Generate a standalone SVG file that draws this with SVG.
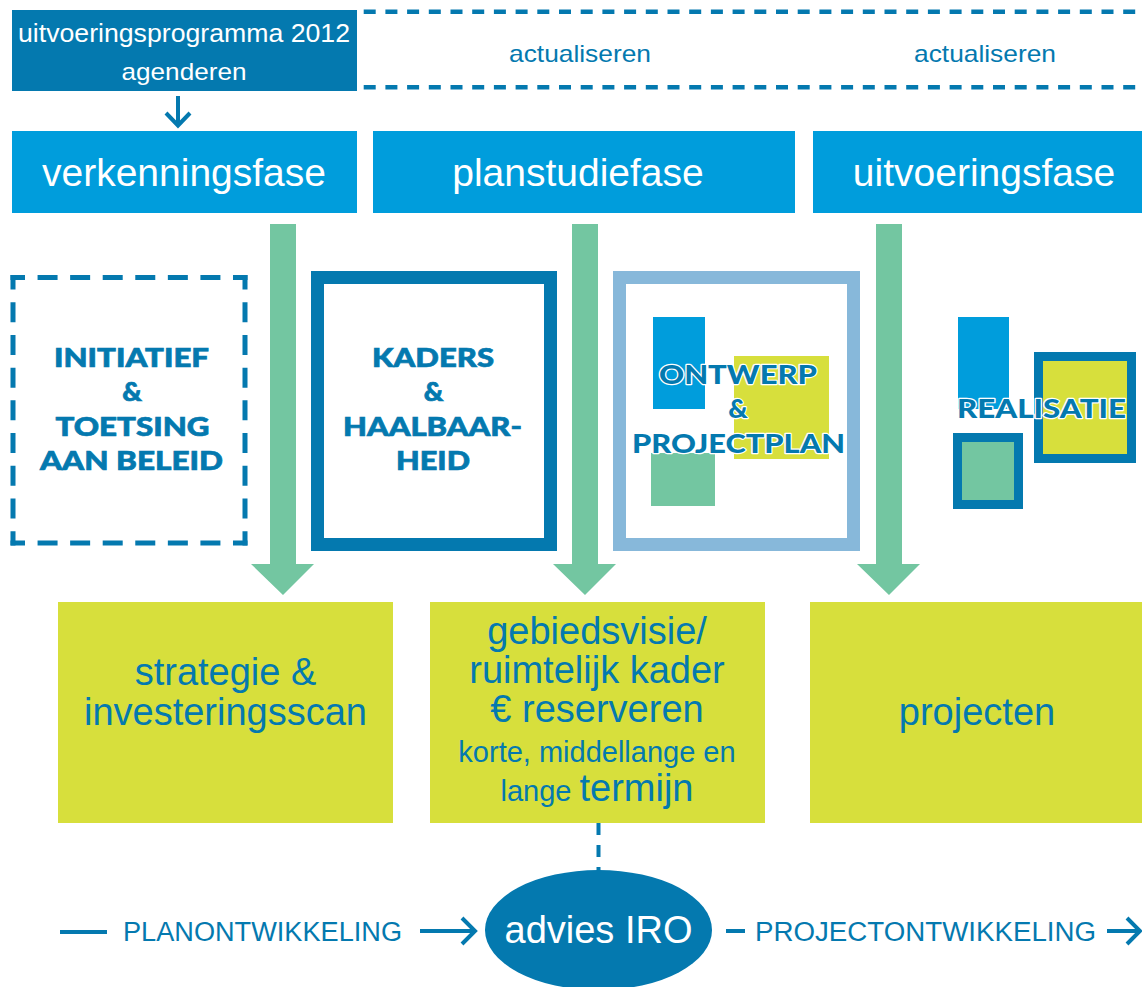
<svg xmlns="http://www.w3.org/2000/svg" width="1142" height="987" viewBox="0 0 1142 987">
  <style>
    .sans { font-family: "Liberation Sans", Arial, sans-serif; }
    .head { font-family: Lato, "Open Sans", "Liberation Sans", sans-serif; font-weight: 900; fill: #0479af; text-anchor: middle; stroke: #0479af; stroke-width: 0.7; }
    .outl { stroke: #ffffff; stroke-width: 2.4; paint-order: stroke; stroke-linejoin: round; }
    .phase { fill: #009ddc; }
    .phase-t { fill: #ffffff; font-size: 39px; text-anchor: middle; }
    .res { fill: #d7df3c; }
    .res-t { fill: #0479af; text-anchor: middle; }
    .dk { fill: #0479af; }
    .gr { fill: #73c6a1; }
    .dash { fill: none; stroke: #0479af; }
    .line { fill: none; stroke: #0479af; stroke-width: 4; }
  </style>

  <rect width="1142" height="987" fill="#ffffff"/>

  <!-- programme bar with update cycle -->
  <g id="uitvoeringsprogramma">
    <rect x="12" y="10" width="345" height="81" class="dk"/>
    <text x="184" y="42" class="sans" font-size="25" fill="#ffffff" text-anchor="middle" textLength="332" lengthAdjust="spacingAndGlyphs">uitvoeringsprogramma 2012</text>
    <text x="184" y="80" class="sans" font-size="24" fill="#ffffff" text-anchor="middle" textLength="125" lengthAdjust="spacingAndGlyphs">agenderen</text>
  </g>
  <g id="actualiseren">
    <line x1="358" y1="11.7" x2="1142" y2="11.7" class="dash" stroke-width="4.5" stroke-dasharray="12 9.7" stroke-dashoffset="16"/>
    <line x1="358" y1="87.3" x2="1142" y2="87.3" class="dash" stroke-width="4.5" stroke-dasharray="12 9.7" stroke-dashoffset="16"/>
    <text x="580" y="62" class="sans" font-size="24" fill="#0479af" text-anchor="middle" textLength="142" lengthAdjust="spacingAndGlyphs">actualiseren</text>
    <text x="985" y="62" class="sans" font-size="24" fill="#0479af" text-anchor="middle" textLength="142" lengthAdjust="spacingAndGlyphs">actualiseren</text>
  </g>

  <!-- phases -->
  <g id="verkenningsfase">
    <rect x="12" y="131" width="345" height="82" class="phase"/>
    <text x="184" y="186" class="sans phase-t">verkenningsfase</text>
  </g>
  <g id="planstudiefase">
    <rect x="373" y="131" width="422" height="82" class="phase"/>
    <text x="578" y="186" class="sans phase-t">planstudiefase</text>
  </g>
  <g id="uitvoeringsfase">
    <rect x="813" y="131" width="329" height="82" class="phase"/>
    <text x="984" y="186" class="sans phase-t">uitvoeringsfase</text>
  </g>

  <!-- activity blocks -->
  <g id="initiatief">
    <line x1="10.5" y1="277.5" x2="247.5" y2="277.5" class="dash" stroke-width="5" stroke-dasharray="20 12.57" stroke-dashoffset="5.5"/>
    <line x1="10.5" y1="543" x2="247.5" y2="543" class="dash" stroke-width="5" stroke-dasharray="20 12.57" stroke-dashoffset="5.5"/>
    <line x1="13" y1="275" x2="13" y2="545.5" class="dash" stroke-width="5" stroke-dasharray="20 12.71" stroke-dashoffset="5.5"/>
    <line x1="245" y1="275" x2="245" y2="545.5" class="dash" stroke-width="5" stroke-dasharray="20 12.71" stroke-dashoffset="5.5"/>
    <text x="131.5" y="367" class="head" font-size="27" textLength="155" lengthAdjust="spacingAndGlyphs">INITIATIEF</text>
    <text x="132" y="401" class="head" font-size="27">&amp;</text>
    <text x="132.5" y="436" class="head" font-size="27" textLength="154" lengthAdjust="spacingAndGlyphs">TOETSING</text>
    <text x="131.5" y="470" class="head" font-size="27" textLength="183" lengthAdjust="spacingAndGlyphs">AAN BELEID</text>
  </g>
  <g id="kaders">
    <rect x="317.5" y="277.5" width="233" height="267" fill="none" stroke="#0479af" stroke-width="13"/>
    <text x="433" y="367" class="head" font-size="27" textLength="122" lengthAdjust="spacingAndGlyphs">KADERS</text>
    <text x="433.5" y="401" class="head" font-size="27">&amp;</text>
    <text x="432.5" y="436" class="head" font-size="27" textLength="179" lengthAdjust="spacingAndGlyphs">HAALBAAR-</text>
    <text x="433" y="470" class="head" font-size="27" textLength="74" lengthAdjust="spacingAndGlyphs">HEID</text>
  </g>
  <g id="ontwerp">
    <rect x="619.5" y="277.5" width="234" height="267" fill="none" stroke="#87b8da" stroke-width="13"/>
    <rect x="653" y="317" width="52" height="92" class="phase"/>
    <rect x="734" y="356" width="95" height="103" class="res"/>
    <rect x="651" y="453" width="64" height="53" class="gr"/>
    <text x="738" y="384" class="head outl" font-size="27" textLength="158" lengthAdjust="spacingAndGlyphs">ONTWERP</text>
    <text x="738" y="418" class="head outl" font-size="27">&amp;</text>
    <text x="738.5" y="453" class="head outl" font-size="27" textLength="213" lengthAdjust="spacingAndGlyphs">PROJECTPLAN</text>
  </g>
  <g id="realisatie">
    <rect x="958" y="317" width="51" height="92" class="phase"/>
    <rect x="1038.5" y="356.5" width="93" height="102" class="res" stroke="#0479af" stroke-width="9"/>
    <rect x="957.5" y="437.5" width="61" height="67" class="gr" stroke="#0479af" stroke-width="9"/>
    <text x="1041.5" y="418" class="head outl" font-size="27" textLength="169" lengthAdjust="spacingAndGlyphs">REALISATIE</text>
  </g>

  <!-- results -->
  <g id="strategie">
    <rect x="58" y="602" width="335" height="221" class="res"/>
    <text x="225.5" y="685" class="sans res-t" font-size="38">strategie &amp;</text>
    <text x="225.5" y="725" class="sans res-t" font-size="38">investeringsscan</text>
  </g>
  <g id="gebiedsvisie">
    <rect x="430" y="602" width="335" height="221" class="res"/>
    <text x="597" y="644" class="sans res-t" font-size="38">gebiedsvisie/</text>
    <text x="597" y="683" class="sans res-t" font-size="38">ruimtelijk kader</text>
    <text x="597" y="722" class="sans res-t" font-size="38">€ reserveren</text>
    <text x="597" y="762" class="sans res-t" font-size="29">korte, middellange en</text>
    <text x="597" y="801" class="sans res-t"><tspan font-size="29">lange </tspan><tspan font-size="38">termijn</tspan></text>
  </g>
  <g id="projecten">
    <rect x="810" y="602" width="332" height="221" class="res"/>
    <text x="977" y="725" class="sans res-t" font-size="38">projecten</text>
  </g>

  <!-- advisory moment -->
  <g id="advies-iro">
    <ellipse cx="598.5" cy="930" rx="113.5" ry="60" class="dk"/>
    <text x="598.5" y="943" class="sans" font-size="38" fill="#ffffff" text-anchor="middle">advies IRO</text>
  </g>

  <!-- process labels -->
  <g id="labels" class="sans" fill="#0479af">
    <text x="123" y="941" font-size="27" textLength="279" lengthAdjust="spacingAndGlyphs">PLANONTWIKKELING</text>
    <text x="755" y="941" font-size="27" textLength="341" lengthAdjust="spacingAndGlyphs">PROJECTONTWIKKELING</text>
  </g>

  <!-- connectors -->
  <g id="connectors">
    <polygon class="gr" points="270,224 296,224 296,564 314,564 283,595 251,564 270,564"/>
    <polygon class="gr" points="572,224 598,224 598,564 616,564 585,595 553,564 572,564"/>
    <polygon class="gr" points="876,224 902,224 902,564 920,564 889,595 857,564 876,564"/>

    <line x1="178" y1="96" x2="178" y2="125" class="line" stroke-width="3.5"/>
    <polyline points="166,113 178,125.5 190,113" class="line" stroke-width="3.5"/>

    <line x1="598.5" y1="823" x2="598.5" y2="871" class="line" stroke-dasharray="12 10"/>

    <line x1="60" y1="932" x2="107" y2="932" class="line"/>
    <line x1="420" y1="931" x2="474" y2="931" class="line"/>
    <polyline points="462,918 475,931 462,944" class="line"/>
    <line x1="726" y1="931" x2="745" y2="931" class="line"/>
    <line x1="1107" y1="931" x2="1139" y2="931" class="line"/>
    <polyline points="1127,918 1140,931 1127,944" class="line"/>
  </g>
</svg>
